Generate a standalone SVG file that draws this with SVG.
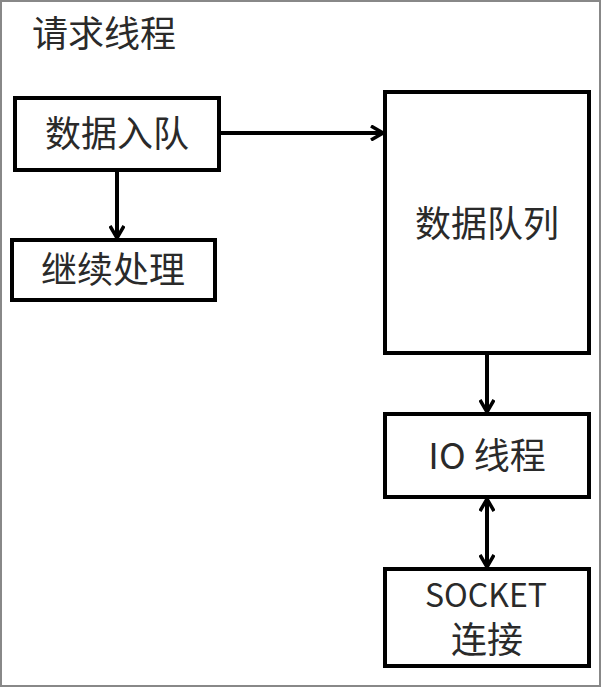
<svg xmlns="http://www.w3.org/2000/svg" width="602" height="687" viewBox="0 0 602 687">
<defs>
<style>
.box{fill:#fff;stroke:#000;stroke-width:4}
.t{font-family:"Noto Sans CJK SC","Liberation Sans",sans-serif;font-size:36px;fill:#2a2a2a;text-anchor:middle}
.c{stroke:#000;stroke-width:4;fill:none}
</style>
<marker id="ah" viewBox="0 0 14 16" refX="13" refY="8" markerWidth="14" markerHeight="16" markerUnits="userSpaceOnUse" orient="auto-start-reverse">
<path d="M1,1 L13,8 L1,15" fill="none" stroke="#000" stroke-width="3.5"/>
</marker>
</defs>
<rect x="0" y="0" width="602" height="687" fill="#fff"/>
<rect x="1" y="1" width="599" height="685" fill="none" stroke="#888" stroke-width="2"/>
<text class="t" x="104" y="47">请求线程</text>
<g id="connectors">
<line class="c" x1="117" y1="170" x2="117" y2="238" marker-end="url(#ah)"/>
<line class="c" x1="219" y1="133" x2="383" y2="133" marker-end="url(#ah)"/>
<line class="c" x1="487" y1="353" x2="487" y2="412" marker-end="url(#ah)"/>
<line class="c" x1="487" y1="499" x2="487" y2="567" marker-start="url(#ah)" marker-end="url(#ah)"/>
</g>
<g id="enqueue">
<rect class="box" x="15" y="98" width="204" height="72"/>
<text class="t" x="117" y="147">数据入队</text>
</g>
<g id="continue">
<rect class="box" x="12" y="240" width="203" height="60"/>
<text class="t" x="113" y="283">继续处理</text>
</g>
<g id="queue">
<rect class="box" x="385" y="92" width="204" height="261"/>
<text class="t" x="487" y="237">数据队列</text>
</g>
<g id="io">
<rect class="box" x="385" y="414" width="204" height="83"/>
<text class="t" x="487" y="469">IO 线程</text>
</g>
<g id="socket">
<rect class="box" x="385" y="569" width="204" height="97"/>
<text class="t" x="486" y="607" style="font-size:32px">SOCKET</text>
<text class="t" x="487" y="653">连接</text>
</g>
</svg>
